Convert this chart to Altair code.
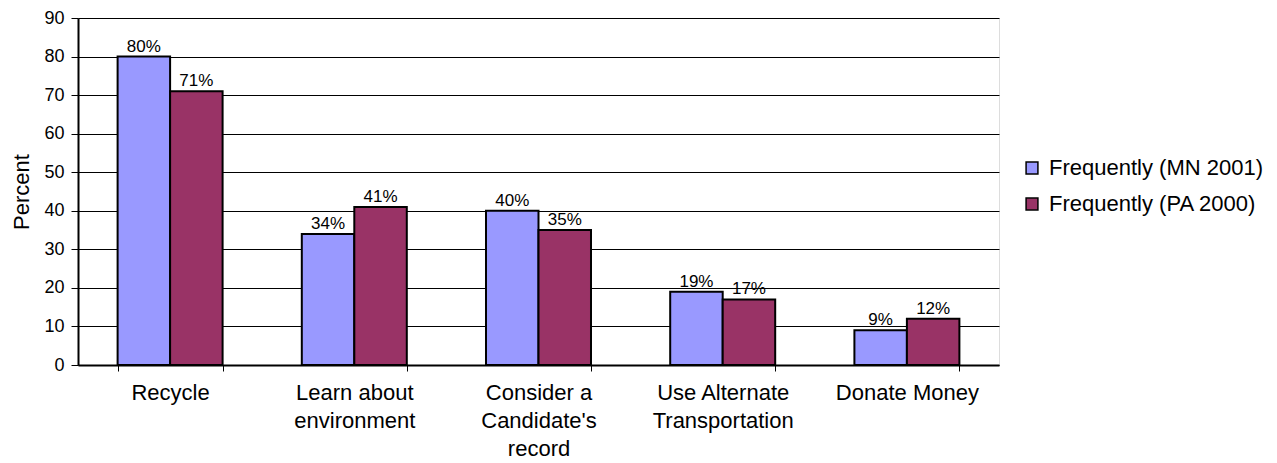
import altair as alt
import pandas as pd
import json

categories = ["Recycle", "Learn about environment", "Consider a Candidate's record",
              "Use Alternate Transportation", "Donate Money"]
label_lines = [["Recycle"], ["Learn about", "environment"], ["Consider a", "Candidate's", "record"],
               ["Use Alternate", "Transportation"], ["Donate Money"]]
series = ["Frequently (MN 2001)", "Frequently (PA 2000)"]
mn_2001 = [80, 34, 40, 19, 9]
pa_2000 = [71, 41, 35, 17, 12]
colors = ["#9999FF", "#993366"]
y_ticks = [0, 10, 20, 30, 40, 50, 60, 70, 80, 90]

rows = []
for c, a, b in zip(categories, mn_2001, pa_2000):
    rows.append({"cat": c, "series": series[0], "value": a, "label": f"{a}%"})
    rows.append({"cat": c, "series": series[1], "value": b, "label": f"{b}%"})
df = pd.DataFrame(rows)

expr = "null"
for c, lines in reversed(list(zip(categories, label_lines))):
    expr = f"datum.label == {json.dumps(c)} ? {json.dumps(lines)} : ({expr})"

FONT = "Liberation Sans"

x = alt.X("cat:N", sort=categories, title=None,
          scale=alt.Scale(paddingInner=0.43, paddingOuter=0.215),
          axis=alt.Axis(labelExpr=expr, labelAngle=0, tickBand="extent", ticks=True,
                        tickSize=6, tickColor="black", tickWidth=1,
                        domainColor="black", domainWidth=2,
                        labelFont=FONT, labelFontSize=22, labelColor="black",
                        labelPadding=11, labelLineHeight=28, labelBaseline="top",
                        labelLimit=300, grid=False))
xo = alt.XOffset("series:N", sort=series, scale=alt.Scale(paddingInner=0, paddingOuter=0))
y = alt.Y("value:Q", title="Percent",
          scale=alt.Scale(domain=[0, 90], nice=False),
          axis=alt.Axis(values=y_ticks, tickSize=7, tickColor="black", domainColor="black",
                        domainWidth=2, gridColor="black", gridWidth=1, gridOpacity=1,
                        labelFont=FONT, labelFontSize=18, labelColor="black", labelPadding=7,
                        titleFont=FONT, titleFontSize=22, titleFontWeight="normal",
                        titleColor="black", titlePadding=10))

bars = alt.Chart(df).mark_bar(stroke="black", strokeWidth=2).encode(
    x=x, xOffset=xo, y=y,
    color=alt.Color("series:N", sort=series, title=None,
                    scale=alt.Scale(domain=series, range=colors),
                    legend=alt.Legend(orient="none", legendX=943, legendY=139,
                                      symbolType="square", symbolSize=140,
                                      symbolStrokeColor="black", symbolStrokeWidth=1.5,
                                      labelFont=FONT, labelFontSize=22, labelColor="black",
                                      labelLimit=400, rowPadding=14, labelOffset=6)),
)
texts = alt.Chart(df).mark_text(font=FONT, fontSize=17, baseline="bottom", dy=-1, color="black").encode(
    x=x, xOffset=xo, y=y, text="label:N"
)

chart = alt.layer(bars, texts).properties(
    width=921, height=347,
    autosize=alt.AutoSizeParams(type="none"),
    padding={"left": 70, "top": 10, "right": 270, "bottom": 98},
).configure_view(stroke="black", strokeWidth=1.5).configure(background="white")

chart.save("out.html", embed_options={"renderer": "svg", "actions": False})
